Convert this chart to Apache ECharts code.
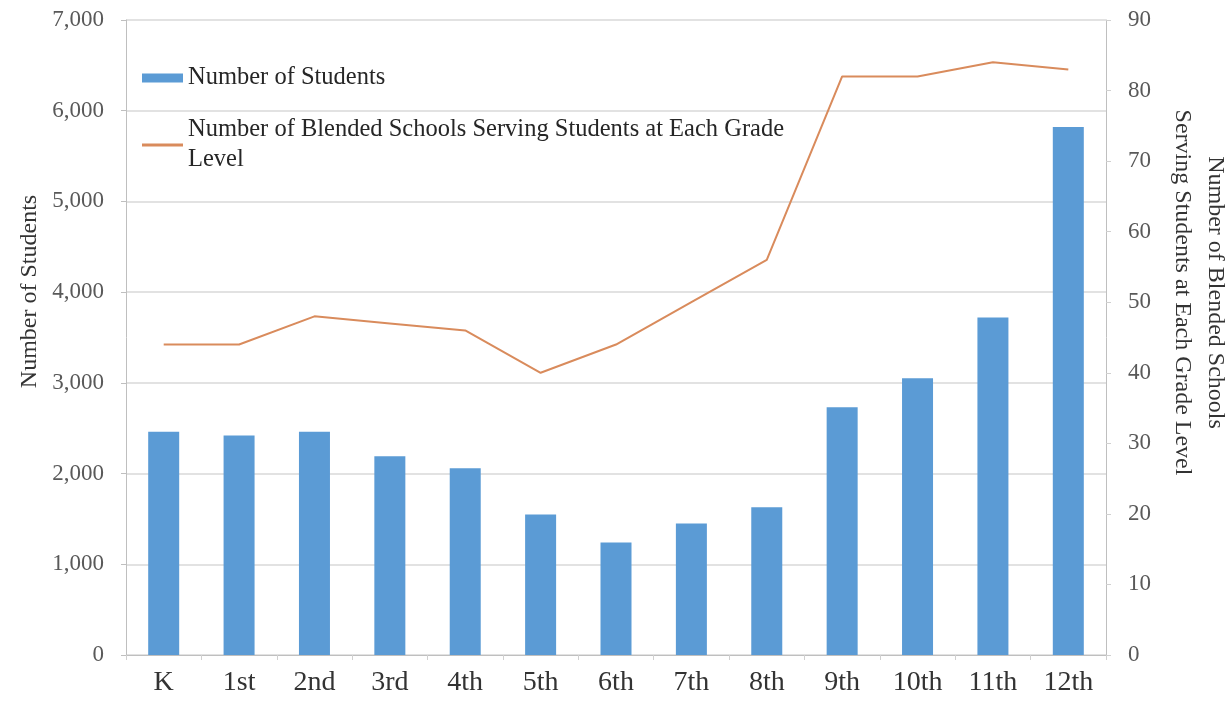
<!DOCTYPE html>
<html>
<head>
<meta charset="utf-8">
<script src="https://cdn.jsdelivr.net/npm/echarts@6/dist/echarts.min.js"></script>
<style>
html,body{margin:0;padding:0;background:#fff;}
#chart{width:1226px;height:705px;}
</style>
</head>
<body>
<div id="chart"></div>
<script>
const categories = ['K','1st','2nd','3rd','4th','5th','6th','7th','8th','9th','10th','11th','12th'];
const students = [2460, 2420, 2460, 2190, 2060, 1550, 1240, 1450, 1630, 2730, 3050, 3720, 5820];
const schools = [44, 44, 48, 47, 46, 40, 44, 50, 56, 82, 82, 84, 83];
const leftTicks = { min: 0, max: 7000, interval: 1000 };
const rightTicks = { min: 0, max: 90, interval: 10 };
const studentsName = 'Number of Students';
const schoolsName = 'Number of Blended Schools Serving Students at Each Grade Level';
const leftTitle = 'Number of Students';
const rightTitle = 'Number of Blended Schools\nServing Students at Each Grade Level';

const FONT = 'Liberation Serif';
const chart = echarts.init(document.getElementById('chart'), null, { renderer: 'canvas' });
chart.setOption({
  animation: false,
  backgroundColor: '#ffffff',
  grid: { left: 126, right: 120, top: 20, bottom: 50, containLabel: false, outerBoundsMode: 'none' },
  legend: [
    {
      data: [studentsName],
      left: 142, top: 63, padding: 0,
      orient: 'vertical',
      icon: 'rect', itemWidth: 41, itemHeight: 9,
      selectedMode: false,
      textStyle: { fontFamily: FONT, fontSize: 24.5, color: '#262626', lineHeight: 30 }
    },
    {
      data: [schoolsName],
      left: 142, top: 100, padding: 0,
      orient: 'vertical',
      icon: 'rect', itemWidth: 41, itemHeight: 3,
      selectedMode: false,
      formatter: function () { return 'Number of Blended Schools Serving Students at Each Grade\nLevel'; },
      textStyle: { fontFamily: FONT, fontSize: 24.5, color: '#262626', lineHeight: 30, padding: [30, 0, 0, 0] }
    }
  ],
  xAxis: {
    type: 'category',
    data: categories,
    boundaryGap: true,
    axisLine: { show: true, lineStyle: { color: '#bfbfbf', width: 1 } },
    axisTick: { show: true, length: 5, lineStyle: { color: '#d0d0d0' } },
    axisLabel: { fontFamily: FONT, fontSize: 28, color: '#333333', margin: 14 }
  },
  yAxis: [
    {
      type: 'value',
      min: leftTicks.min, max: leftTicks.max, interval: leftTicks.interval,
      position: 'left',
      name: leftTitle,
      nameLocation: 'middle',
      nameGap: 74,
      nameTextStyle: { fontFamily: FONT, fontSize: 24, color: '#333333', padding: [0, 0, 0, 92] },
      axisLine: { show: true, lineStyle: { color: '#bfbfbf', width: 1 } },
      axisTick: { show: true, length: 5, lineStyle: { color: '#bfbfbf' } },
      splitLine: { show: true, lineStyle: { color: '#d9d9d9', width: 1.5 } },
      axisLabel: {
        fontFamily: FONT, fontSize: 23, color: '#595959', margin: 22,
        formatter: function (v) { return v.toLocaleString('en-US'); }
      }
    },
    {
      type: 'value',
      min: rightTicks.min, max: rightTicks.max, interval: rightTicks.interval,
      position: 'right',
      name: rightTitle,
      nameLocation: 'middle',
      nameRotate: -90,
      nameGap: 60,
      nameTextStyle: { fontFamily: FONT, fontSize: 24, color: '#333333', lineHeight: 33, padding: [0, 90, 0, 0] },
      axisLine: { show: true, lineStyle: { color: '#bfbfbf', width: 1 } },
      axisTick: { show: true, length: 5, lineStyle: { color: '#d0d0d0' } },
      splitLine: { show: false },
      axisLabel: { fontFamily: FONT, fontSize: 23, color: '#595959', margin: 22 }
    }
  ],
  series: [
    {
      name: studentsName,
      type: 'bar',
      yAxisIndex: 0,
      data: students,
      barWidth: 31,
      itemStyle: { color: '#5B9BD5' }
    },
    {
      name: schoolsName,
      type: 'line',
      yAxisIndex: 1,
      data: schools,
      symbol: 'none',
      z: 5,
      itemStyle: { color: '#D98B5C' },
      lineStyle: { color: '#D98B5C', width: 2 }
    }
  ]
});
</script>
</body>
</html>
